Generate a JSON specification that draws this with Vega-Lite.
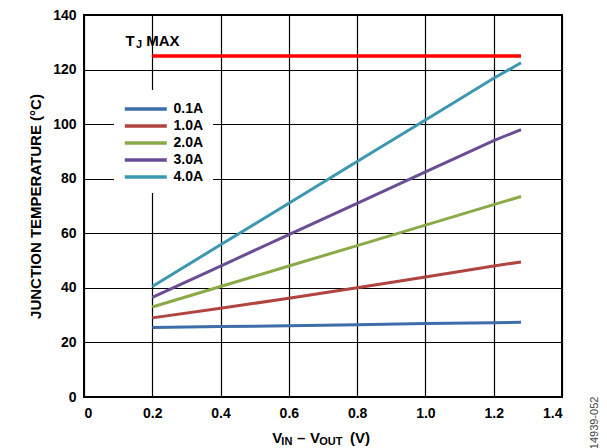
{
  "$schema": "https://vega.github.io/schema/vega-lite/v6.json",
  "width": 478,
  "height": 382,
  "autosize": {"type": "none"},
  "padding": {"left": 84, "top": 15, "right": 45, "bottom": 51},
  "background": "white",
  "config": {
    "font": "Liberation Sans",
    "view": {"stroke": "black", "strokeWidth": 2},
    "text": {"font": "Liberation Sans", "fontWeight": "bold", "color": "black"},
    "axis": {
      "grid": true, "gridColor": "black", "gridWidth": 1.2, "gridOpacity": 1,
      "domain": false, "ticks": false,
      "labelFont": "Liberation Sans", "labelFontWeight": "bold", "labelFontSize": 14, "labelColor": "black",
      "titleFont": "Liberation Sans", "titleFontWeight": "bold", "titleFontSize": 15, "titleColor": "black"
    }
  },
  "datasets": {
    "curves": [
      {"v": 0.2, "t": 25.5, "s": "0.1A"}, {"v": 0.4, "t": 25.8, "s": "0.1A"}, {"v": 0.6, "t": 26.1, "s": "0.1A"}, {"v": 0.8, "t": 26.5, "s": "0.1A"}, {"v": 1.0, "t": 26.9, "s": "0.1A"}, {"v": 1.2, "t": 27.2, "s": "0.1A"}, {"v": 1.28, "t": 27.4, "s": "0.1A"},
      {"v": 0.2, "t": 29.0, "s": "1.0A"}, {"v": 0.4, "t": 32.5, "s": "1.0A"}, {"v": 0.6, "t": 36.2, "s": "1.0A"}, {"v": 0.8, "t": 40.0, "s": "1.0A"}, {"v": 1.0, "t": 44.0, "s": "1.0A"}, {"v": 1.2, "t": 48.0, "s": "1.0A"}, {"v": 1.28, "t": 49.5, "s": "1.0A"},
      {"v": 0.2, "t": 33.0, "s": "2.0A"}, {"v": 0.4, "t": 40.5, "s": "2.0A"}, {"v": 0.6, "t": 48.0, "s": "2.0A"}, {"v": 0.8, "t": 55.5, "s": "2.0A"}, {"v": 1.0, "t": 63.0, "s": "2.0A"}, {"v": 1.2, "t": 70.5, "s": "2.0A"}, {"v": 1.28, "t": 73.5, "s": "2.0A"},
      {"v": 0.2, "t": 36.5, "s": "3.0A"}, {"v": 0.4, "t": 48.0, "s": "3.0A"}, {"v": 0.6, "t": 59.5, "s": "3.0A"}, {"v": 0.8, "t": 71.0, "s": "3.0A"}, {"v": 1.0, "t": 82.5, "s": "3.0A"}, {"v": 1.2, "t": 94.0, "s": "3.0A"}, {"v": 1.28, "t": 98.0, "s": "3.0A"},
      {"v": 0.2, "t": 40.5, "s": "4.0A"}, {"v": 0.4, "t": 55.8, "s": "4.0A"}, {"v": 0.6, "t": 71.0, "s": "4.0A"}, {"v": 0.8, "t": 86.3, "s": "4.0A"}, {"v": 1.0, "t": 101.5, "s": "4.0A"}, {"v": 1.2, "t": 116.8, "s": "4.0A"}, {"v": 1.28, "t": 122.5, "s": "4.0A"}
    ],
    "tjmax": [{"v": 0.2, "t": 125}, {"v": 1.28, "t": 125}],
    "one": [{}]
  },
  "layer": [
    {
      "data": {"name": "tjmax"},
      "mark": {"type": "line", "color": "#ff0000", "strokeWidth": 3.5},
      "encoding": {
        "x": {"field": "v", "type": "quantitative", "scale": {"domain": [0, 1.4], "nice": false},
          "axis": {"values": [0, 0.2, 0.4, 0.6, 0.8, 1.0, 1.2, 1.4], "labelExpr": "datum.value == 0 ? '0' : format(datum.value, '.1f')", "labelPadding": 9, "title": null}},
        "y": {"field": "t", "type": "quantitative", "scale": {"domain": [0, 140], "nice": false},
          "axis": {"values": [0, 20, 40, 60, 80, 100, 120, 140], "labelPadding": 8, "title": "JUNCTION TEMPERATURE (°C)", "titlePadding": 9}}
      }
    },
    {
      "data": {"name": "curves"},
      "mark": {"type": "line", "strokeWidth": 3},
      "encoding": {
        "x": {"field": "v", "type": "quantitative"},
        "y": {"field": "t", "type": "quantitative"},
        "color": {
          "field": "s", "type": "nominal",
          "scale": {"domain": ["0.1A", "1.0A", "2.0A", "3.0A", "4.0A"], "range": ["#3d6eaa", "#b0443f", "#8aaa48", "#6a4e95", "#3c98b0"]},
          "legend": {
            "title": null, "orient": "none", "legendX": 30, "legendY": 75,
            "fillColor": "white", "padding": 9,
            "symbolType": "M-1,0H4.12", "symbolSize": 269, "symbolStrokeWidth": 3.5,
            "rowPadding": -0.5, "labelOffset": 30.5,
            "labelFont": "Liberation Sans", "labelFontWeight": "bold", "labelFontSize": 14, "labelColor": "black"
          }
        }
      }
    },
    {
      "data": {"name": "one"},
      "mark": {"type": "text", "text": "T", "fontSize": 15, "align": "center", "baseline": "middle"},
      "encoding": {"x": {"datum": 0.135}, "y": {"datum": 130.3}}
    },
    {
      "data": {"name": "one"},
      "mark": {"type": "text", "text": "J", "fontSize": 11, "align": "center", "baseline": "middle"},
      "encoding": {"x": {"datum": 0.161}, "y": {"datum": 129}}
    },
    {
      "data": {"name": "one"},
      "mark": {"type": "text", "text": "MAX", "fontSize": 15, "align": "left", "baseline": "middle"},
      "encoding": {"x": {"datum": 0.182}, "y": {"datum": 130.3}}
    },
    {
      "data": {"name": "one"},
      "mark": {"type": "text", "text": "V", "fontSize": 15, "align": "left", "baseline": "middle"},
      "encoding": {"x": {"datum": 0.551}, "y": {"datum": -15}}
    },
    {
      "data": {"name": "one"},
      "mark": {"type": "text", "text": "IN", "fontSize": 11, "align": "left", "baseline": "middle"},
      "encoding": {"x": {"datum": 0.578}, "y": {"datum": -16.5}}
    },
    {
      "data": {"name": "one"},
      "mark": {"type": "text", "text": "–", "fontSize": 15, "align": "left", "baseline": "middle"},
      "encoding": {"x": {"datum": 0.624}, "y": {"datum": -15}}
    },
    {
      "data": {"name": "one"},
      "mark": {"type": "text", "text": "V", "fontSize": 15, "align": "left", "baseline": "middle"},
      "encoding": {"x": {"datum": 0.662}, "y": {"datum": -15}}
    },
    {
      "data": {"name": "one"},
      "mark": {"type": "text", "text": "OUT", "fontSize": 11, "align": "left", "baseline": "middle"},
      "encoding": {"x": {"datum": 0.689}, "y": {"datum": -16.5}}
    },
    {
      "data": {"name": "one"},
      "mark": {"type": "text", "text": "(V)", "fontSize": 15, "align": "left", "baseline": "middle"},
      "encoding": {"x": {"datum": 0.779}, "y": {"datum": -15}}
    },
    {
      "data": {"name": "one"},
      "mark": {"type": "text", "text": "14939-052", "fontWeight": "normal", "fontSize": 11, "align": "center", "baseline": "middle", "angle": 270, "color": "#444444"},
      "encoding": {"x": {"datum": 1.497}, "y": {"datum": -9.5}}
    }
  ]
}
